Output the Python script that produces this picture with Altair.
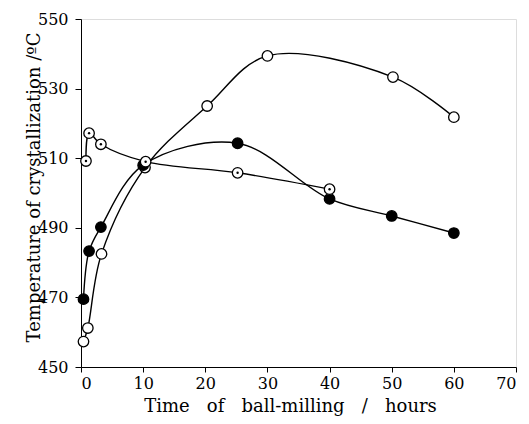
import altair as alt
import pandas as pd

# open circles
open_x = [0.4, 1.1, 3.3, 10.3, 20.3, 30.0, 50.2, 60.0]
open_y = [457.3, 461.2, 482.5, 507.3, 525.0, 539.4, 533.3, 521.8]
# filled circles
fill_x = [0.4, 1.3, 3.2, 10.0, 25.2, 40.0, 50.0, 60.0]
fill_y = [469.5, 483.3, 490.2, 508.0, 514.3, 498.3, 493.4, 488.5]
# dotted circles
dot_x = [0.8, 1.3, 3.2, 10.4, 25.2, 40.0]
dot_y = [509.2, 517.2, 514.0, 509.0, 505.8, 501.1]

df_open = pd.DataFrame({"x": open_x, "y": open_y})
df_fill = pd.DataFrame({"x": fill_x, "y": fill_y})
df_dot = pd.DataFrame({"x": dot_x, "y": dot_y})

FONT = "DejaVu Serif"
SP = "\u00a0\u00a0\u00a0"

xs = alt.X("x:Q", scale=alt.Scale(domain=[0, 70], nice=False, zero=False),
           axis=alt.Axis(title=f"Time{SP}of{SP}ball-milling{SP}/{SP}hours", values=[0, 10, 20, 30, 40, 50, 60, 70],
                         grid=False, domainColor="black", tickColor="black", tickSize=5,
                         labelColor="black", labelFont=FONT, labelFontSize=16, titleFont=FONT,
                         titleFontSize=18, titleFontWeight="normal", titleColor="black",
                         labelPadding=3, titleX=209, titleY=44, titleAlign="center",
                         titleBaseline="alphabetic"))
ys = alt.Y("y:Q", scale=alt.Scale(domain=[450, 550], nice=False, zero=False),
           axis=alt.Axis(title="Temperature of crystallization /ºC", values=[450, 470, 490, 510, 530, 550],
                         grid=False, domainColor="black", tickColor="black", tickSize=6,
                         labelColor="black", labelFont=FONT, labelFontSize=16, titleFont=FONT,
                         titleFontSize=18, titleFontWeight="normal", titleColor="black",
                         labelPadding=7, titleX=-38, titleY=168, titleAlign="center",
                         titleBaseline="bottom", titleAngle=270))


def line(df):
    return alt.Chart(df).mark_line(color="black", strokeWidth=1.4, interpolate="catmull-rom").encode(x=xs, y=ys)


def pts(df, fill):
    return alt.Chart(df).mark_point(shape="circle", size=110, filled=True, fill=fill, stroke="black",
                                     strokeWidth=1.3, opacity=1).encode(x=xs, y=ys)


centre = alt.Chart(df_dot).mark_point(shape="circle", size=6, filled=True, color="black", opacity=1).encode(x=xs, y=ys)

chart = alt.layer(
    line(df_open), line(df_fill), line(df_dot),
    pts(df_open, "white"), pts(df_fill, "black"), pts(df_dot, "white"), centre
).properties(
    width=435, height=348,
    autosize=alt.AutoSizeParams(type="none"),
    padding={"left": 73, "top": 11, "right": 3, "bottom": 49}
).configure_view(stroke="black", strokeWidth=1.2).configure(background="white")

chart.save("out.html", embed_options={"renderer": "svg", "actions": False})
